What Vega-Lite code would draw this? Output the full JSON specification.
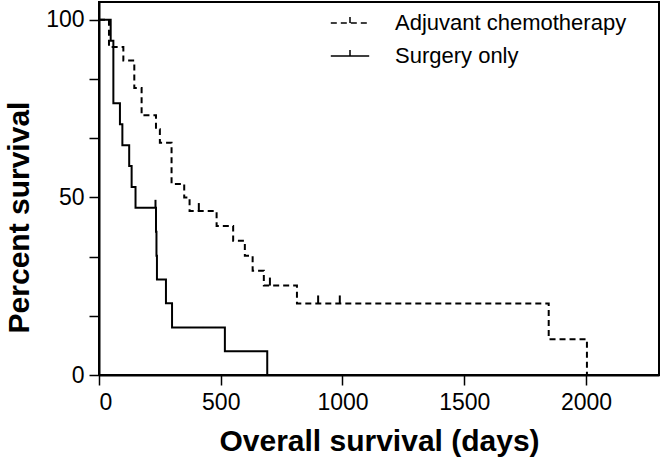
{
  "$schema": "https://vega.github.io/schema/vega-lite/v6.json",
  "width": 560,
  "height": 373,
  "autosize": {"type": "none"},
  "padding": {"left": 99, "top": 2, "right": 2, "bottom": 91},
  "background": "white",
  "config": {
    "font": "Liberation Sans",
    "view": {"stroke": "black", "strokeWidth": 2},
    "axis": {
      "grid": false,
      "domainColor": "black",
      "domainWidth": 2,
      "tickColor": "black",
      "tickWidth": 1.5,
      "tickSize": 10,
      "labelColor": "black",
      "labelFont": "Liberation Sans",
      "labelFontSize": 23,
      "titleColor": "black",
      "titleFont": "Liberation Sans",
      "titleFontWeight": "bold",
      "titleFontSize": 30
    }
  },
  "datasets": {
    "curves": [
      {"group": "Adjuvant chemotherapy", "day": 0, "surv": 100},
      {"group": "Adjuvant chemotherapy", "day": 41, "surv": 92.3},
      {"group": "Adjuvant chemotherapy", "day": 100, "surv": 88.5},
      {"group": "Adjuvant chemotherapy", "day": 145, "surv": 80.8},
      {"group": "Adjuvant chemotherapy", "day": 175, "surv": 73.1},
      {"group": "Adjuvant chemotherapy", "day": 234, "surv": 69.2},
      {"group": "Adjuvant chemotherapy", "day": 250, "surv": 65.4},
      {"group": "Adjuvant chemotherapy", "day": 298, "surv": 53.8},
      {"group": "Adjuvant chemotherapy", "day": 350, "surv": 50.0},
      {"group": "Adjuvant chemotherapy", "day": 372, "surv": 46.15},
      {"group": "Adjuvant chemotherapy", "day": 483, "surv": 41.96},
      {"group": "Adjuvant chemotherapy", "day": 551, "surv": 37.76},
      {"group": "Adjuvant chemotherapy", "day": 599, "surv": 33.57},
      {"group": "Adjuvant chemotherapy", "day": 631, "surv": 29.37},
      {"group": "Adjuvant chemotherapy", "day": 677, "surv": 25.17},
      {"group": "Adjuvant chemotherapy", "day": 813, "surv": 20.14},
      {"group": "Adjuvant chemotherapy", "day": 1847, "surv": 10.07},
      {"group": "Adjuvant chemotherapy", "day": 2004, "surv": 0},
      {"group": "Surgery only", "day": 0, "surv": 100},
      {"group": "Surgery only", "day": 48, "surv": 94.1},
      {"group": "Surgery only", "day": 59, "surv": 76.5},
      {"group": "Surgery only", "day": 86, "surv": 70.6},
      {"group": "Surgery only", "day": 96, "surv": 64.7},
      {"group": "Surgery only", "day": 124, "surv": 58.8},
      {"group": "Surgery only", "day": 134, "surv": 52.9},
      {"group": "Surgery only", "day": 150, "surv": 47.06},
      {"group": "Surgery only", "day": 234, "surv": 40.34},
      {"group": "Surgery only", "day": 236, "surv": 33.6},
      {"group": "Surgery only", "day": 238, "surv": 26.9},
      {"group": "Surgery only", "day": 275, "surv": 20.2},
      {"group": "Surgery only", "day": 300, "surv": 13.4},
      {"group": "Surgery only", "day": 517, "surv": 6.7},
      {"group": "Surgery only", "day": 691, "surv": 0}
    ],
    "censored": [
      {"group": "Adjuvant chemotherapy", "day": 410, "surv": 46.15},
      {"group": "Adjuvant chemotherapy", "day": 702, "surv": 25.17},
      {"group": "Adjuvant chemotherapy", "day": 900, "surv": 20.14},
      {"group": "Adjuvant chemotherapy", "day": 989, "surv": 20.14},
      {"group": "Surgery only", "day": 232, "surv": 47.06}
    ]
  },
  "layer": [
    {
      "data": {"name": "curves"},
      "mark": {"type": "line", "interpolate": "step-after", "color": "black", "strokeWidth": 2},
      "encoding": {
        "x": {
          "field": "day", "type": "quantitative",
          "scale": {"domain": [0, 2300], "nice": false, "zero": false},
          "axis": {"values": [0, 500, 1000, 1500, 2000], "format": "d", "labelPadding": 6, "title": "Overall survival (days)", "titlePadding": 12}
        },
        "y": {
          "field": "surv", "type": "quantitative",
          "scale": {"domain": [0, 105], "nice": false},
          "axis": {
            "values": [0, 16.6667, 33.3333, 50, 66.6667, 83.3333, 100],
            "labelExpr": "datum.value == 0 || datum.value == 50 || datum.value == 100 ? datum.label : ''",
            "labelPadding": 5,
            "title": "Percent survival",
            "titlePadding": 11,
            "titleY": 215
          }
        },
        "strokeDash": {
          "field": "group", "type": "nominal",
          "scale": {"domain": ["Adjuvant chemotherapy", "Surgery only"], "range": [[6, 4], [1, 0]]},
          "legend": {
            "title": null,
            "orient": "none",
            "legendX": 238,
            "legendY": 8,
            "padding": 0,
            "symbolType": "M-1.6,0H1.6M0,0V-0.5",
            "symbolSize": 576,
            "symbolStrokeColor": "black",
            "symbolStrokeWidth": 1.5,
            "labelFont": "Liberation Sans",
            "labelFontSize": 22,
            "labelColor": "black",
            "labelOffset": 32,
            "rowPadding": 9,
            "labelLimit": 400
          }
        }
      }
    },
    {
      "data": {"name": "censored"},
      "mark": {"type": "point", "shape": "M0,0V-1", "size": 256, "stroke": "black", "strokeWidth": 2, "filled": false, "opacity": 1},
      "encoding": {
        "x": {"field": "day", "type": "quantitative"},
        "y": {"field": "surv", "type": "quantitative"}
      }
    }
  ]
}
